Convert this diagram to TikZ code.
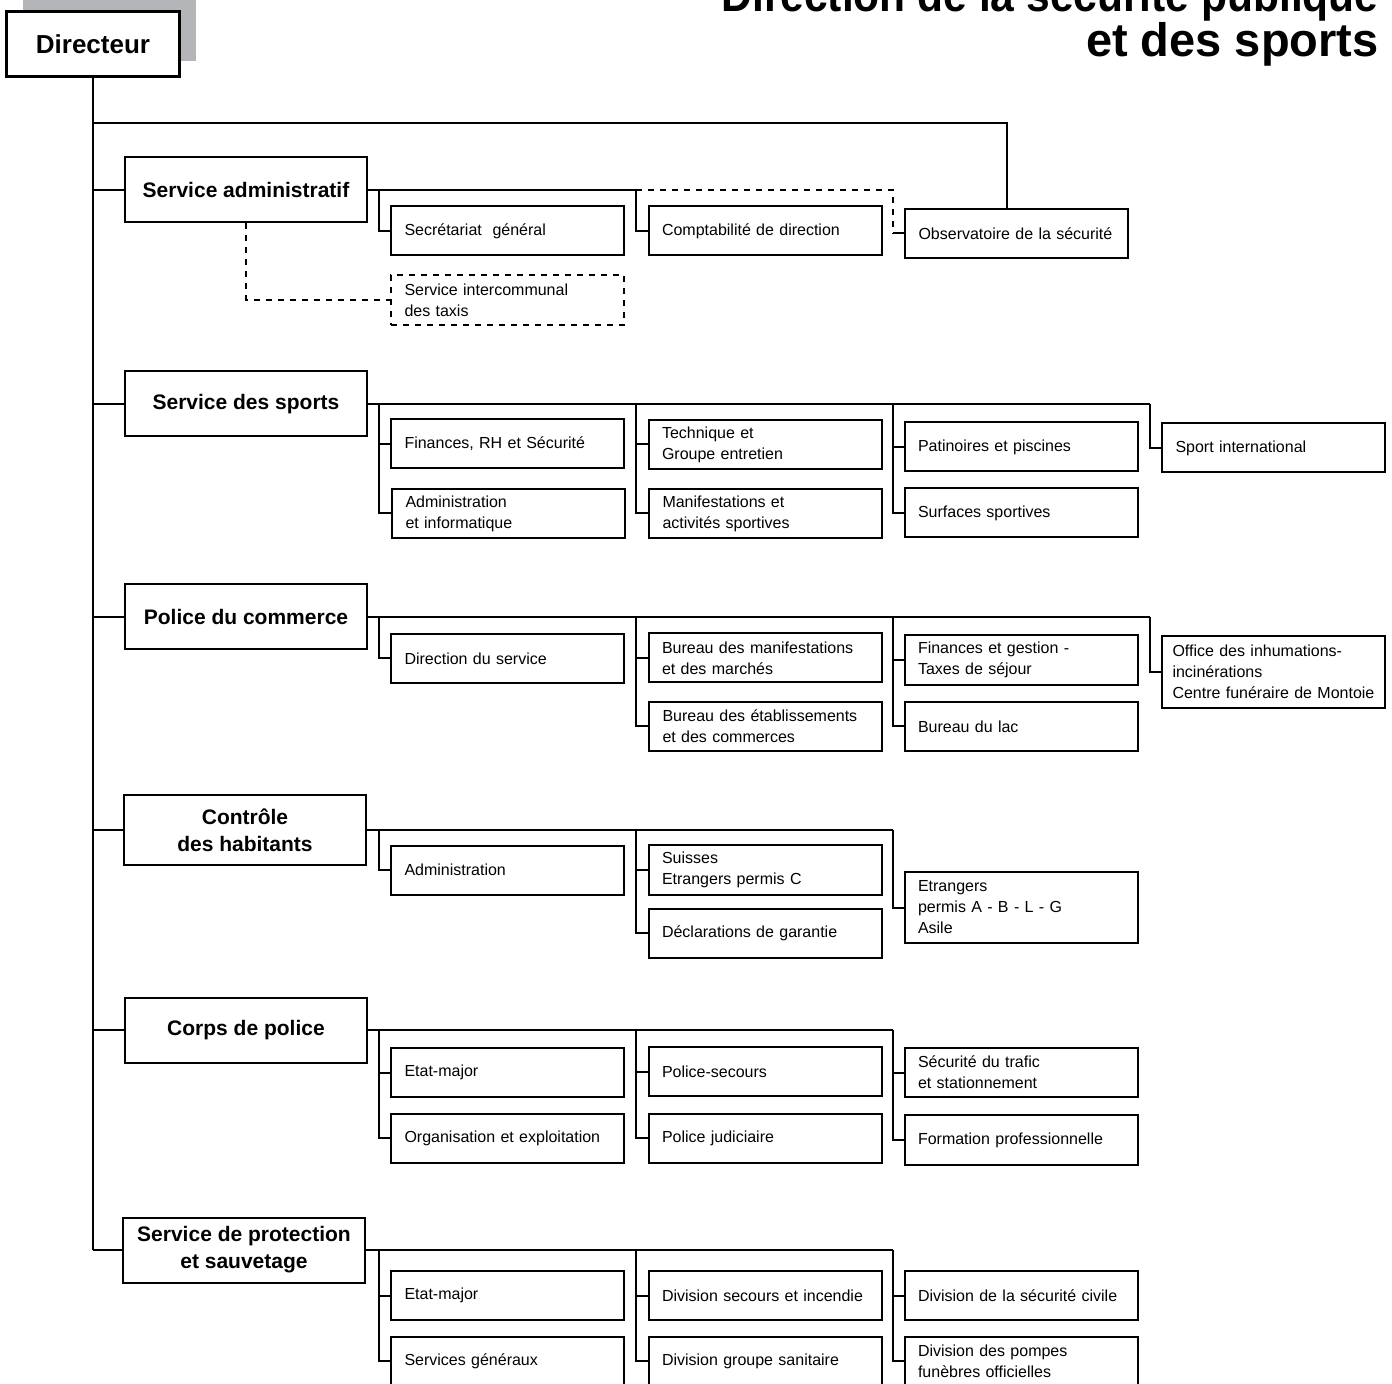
\documentclass[tikz,border=0pt]{standalone}
\usepackage{fontspec}
\setmainfont{Liberation Sans}
\usetikzlibrary{shadows}
\definecolor{shadowgrey}{RGB}{180,181,184}

\tikzset{
  head/.style={draw, line width=1.5pt, fill=white, minimum width=86.5pt, minimum height=32.5pt,
    font=\fontsize{13}{15}\selectfont\bfseries,
    drop shadow={shadow xshift=8pt, shadow yshift=8pt, fill=shadowgrey, opacity=1}},
  serv/.style={draw, line width=1pt, minimum width=121pt, minimum height=32.5pt, align=center,
    font=\fontsize{10.5}{13.5}\selectfont\bfseries},
  unit/.style={draw, line width=1pt, minimum width=116.5pt, minimum height=24.5pt,
    text width=103pt, inner xsep=6.75pt, align=left, font=\fontsize{8}{10.5}\selectfont},
  link/.style={line width=1pt},
  title/.style={align=right, inner sep=0pt, font=\fontsize{23.5}{19}\selectfont\bfseries},
}

\begin{document}
\begin{tikzpicture}[x=0.5pt, y=-0.5pt]
  \useasboundingbox (0,0) rectangle (1392,1384);

  \node (title) [title, anchor=south east] at (1379,67) {\scalebox{0.905}[1]{Direction de la sécurité publique}\\et des sports};
  \node (dir) [head] at (93,44.5) {Directeur};

  % services
  \node (sadm) [serv] at (246,190) {Service administratif};
  \node (sport) [serv] at (246,404) {Service des sports};
  \node (pcom) [serv] at (246,617) {Police du commerce};
  \node (ctrl) [serv, minimum height=35pt] at (245,830) {Contrôle\\des habitants};
  \node (corps) [serv] at (246,1030) {Corps de police};
  \node (sps) [serv] at (244,1250) {Service de protection\\et sauvetage};

  % columns of the buses
  \coordinate (c1) at (379,0);
  \coordinate (c2) at (636,0);
  \coordinate (c3) at (893,0);
  \coordinate (c4) at (1150,0);
  \coordinate (bar) at (93,123);

  % Service administratif
  \node (sadm1) [unit] at (507.5,231) {Secrétariat\ \ général};
  \node (sadm2) [unit] at (765,231) {Comptabilité de direction};
  \node (obs) [unit, minimum width=111.5pt, text width=98pt] at (1016.5,233.5) {Observatoire de la sécurité};
  \node (taxi) [unit, dashed, minimum height=25pt] at (507.5,300) {Service intercommunal\\des taxis};

  % Service des sports
  \node (sp1) [unit] at (507.5,444) {Finances, RH et Sécurité};
  \node (sp2) [unit] at (508.5,513.5) {Administration\\et informatique};
  \node (sp3) [unit] at (765,444.5) {Technique et\\Groupe entretien};
  \node (sp4) [unit] at (765.5,513.5) {Manifestations et\\activités sportives};
  \node (sp5) [unit] at (1021,447) {Patinoires et piscines};
  \node (sp6) [unit] at (1021,513) {Surfaces sportives};
  \node (sp7) [unit, minimum width=111.5pt, text width=98pt] at (1273.5,448) {Sport international};

  % Police du commerce
  \node (pc1) [unit] at (507.5,658.5) {Direction du service};
  \node (pc2) [unit] at (765,658) {Bureau des manifestations\\et des marchés};
  \node (pc3) [unit] at (765.5,726.5) {Bureau des établissements\\et des commerces};
  \node (pc4) [unit] at (1021,660) {Finances et gestion -\\Taxes de séjour};
  \node (pc5) [unit] at (1021,726.5) {Bureau du lac};
  \node (pc6) [unit, minimum width=111.5pt, text width=101pt, inner xsep=5.25pt, minimum height=36pt] at (1273.5,672) {Office des inhumations-\\incinérations\\Centre funéraire de Montoie};

  % Controle des habitants
  \node (ct1) [unit] at (507.5,870) {Administration};
  \node (ct2) [unit] at (765,870) {Suisses\\Etrangers permis C};
  \node (ct3) [unit] at (765,933) {Déclarations de garantie};
  \node (ct4) [unit, minimum height=35.5pt] at (1021,907.5) {Etrangers\\permis A - B - L - G\\Asile};

  % Corps de police
  \node (cp1) [unit] at (507.5,1072.5) {Etat-major};
  \node (cp2) [unit] at (507.5,1138) {Organisation et exploitation};
  \node (cp3) [unit] at (765,1071.5) {Police-secours};
  \node (cp4) [unit] at (765,1138) {Police judiciaire};
  \node (cp5) [unit] at (1021,1072.5) {Sécurité du trafic\\et stationnement};
  \node (cp6) [unit, minimum height=25pt] at (1021,1140) {Formation professionnelle};

  % Service de protection et sauvetage
  \node (ps1) [unit] at (507.5,1295.5) {Etat-major};
  \node (ps2) [unit] at (507.5,1361) {Services généraux};
  \node (ps3) [unit] at (765,1295.5) {Division secours et incendie};
  \node (ps4) [unit] at (765,1361) {Division groupe sanitaire};
  \node (ps5) [unit] at (1021,1295.5) {Division de la sécurité civile};
  \node (ps6) [unit] at (1021,1361) {Division des pompes\\funèbres officielles};

  % trunk
  \draw[link] (dir) -- (dir.south |- sps.west);
  \draw[link] (dir.south |- bar) -| ([xshift=-5pt]obs.north);
  \foreach \s in {sadm, sport, pcom, ctrl, corps, sps}
    \draw[link] (dir.south |- \s.west) -- (\s.west);

  % buses
  \draw[link] (sadm.east) -- (sadm.east -| c2);
  \draw[link, dashed] (sadm.east -| c2) -| (obs.west -| c3);
  \draw[link] (obs.west -| c3) -- (obs.west);
  \draw[link, dashed] (sadm.south) |- (taxi.west);
  \draw[link] (sport.east) -- (sport.east -| c4);
  \draw[link] (pcom.east) -- (pcom.east -| c4);
  \draw[link] (ctrl.east) -- (ctrl.east -| c3);
  \draw[link] (corps.east) -- (corps.east -| c3);
  \draw[link] (sps.east) -- (sps.east -| c3);

  % drops to the units
  \foreach \s/\c/\u in {sadm/c1/sadm1, sadm/c2/sadm2,
      sport/c1/sp1, sport/c1/sp2, sport/c2/sp3, sport/c2/sp4, sport/c3/sp5, sport/c3/sp6, sport/c4/sp7,
      pcom/c1/pc1, pcom/c2/pc2, pcom/c2/pc3, pcom/c3/pc4, pcom/c3/pc5, pcom/c4/pc6,
      ctrl/c1/ct1, ctrl/c2/ct2, ctrl/c2/ct3, ctrl/c3/ct4,
      corps/c1/cp1, corps/c1/cp2, corps/c2/cp3, corps/c2/cp4, corps/c3/cp5, corps/c3/cp6,
      sps/c1/ps1, sps/c1/ps2, sps/c2/ps3, sps/c2/ps4, sps/c3/ps5, sps/c3/ps6}
    \draw[link] (\s.east -| \c) |- (\u.west);
\end{tikzpicture}
\end{document}
